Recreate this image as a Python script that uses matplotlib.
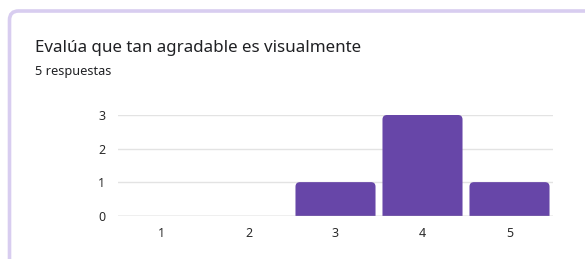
import matplotlib
matplotlib.use("Agg")
import matplotlib.pyplot as plt
from matplotlib.patches import FancyBboxPatch

categories = ["1", "2", "3", "4", "5"]
values = [0, 0, 1, 3, 1]
yticks = [0, 1, 2, 3]
title = "Evalúa que tan agradable es visualmente"
subtitle = "5 respuestas"

BAR = "#6746a8"
plt.rcParams['font.family'] = ['Noto Sans', 'DejaVu Sans']

W, H = 585, 259
fig = plt.figure(figsize=(W / 100, H / 100), dpi=100)
fig.patch.set_facecolor("white")

# card border
card = FancyBboxPatch((9.5 / W, -0.2), 1.2, 1 - 11 / H + 0.2,
                      boxstyle="round,pad=0,rounding_size=%f" % (9 / W),
                      mutation_aspect=W / H, transform=fig.transFigure,
                      facecolor="white", edgecolor="#d8cdf0", linewidth=2.6,
                      zorder=-10)
fig.patches.append(card)

fig.text(35 / W, 1 - 48 / H, title, fontsize=12.2, color="#202124",
         va="center", ha="left")
fig.text(35 / W, 1 - 71 / H, subtitle, fontsize=9.2, color="#202124",
         va="center", ha="left")

ax = fig.add_axes([118 / W, 43.3 / H, (553 - 118) / W, (144 - 43.3) / H])
ax.set_facecolor("none")
ax.set_zorder(2)
x = list(range(len(categories)))
bars = ax.bar(x, values, width=0.92, color=BAR)
ax.set_xlim(-0.5, len(categories) - 0.5)
ax.set_ylim(0, 3)

px_x = (553 - 118) / 5.0
px_y = (144 - 43.3) / 3.0
r_px = 4.5
rs = r_px / px_x
aspect = px_x / px_y
ext = 0.3  # extend below baseline; clipped by axes so only top corners are rounded
for b in bars:
    bx, by = b.get_x(), b.get_y()
    bw, bh = b.get_width(), b.get_height()
    b.remove()
    if bh <= 0:
        continue
    p = FancyBboxPatch((bx, by - ext), bw, bh + ext,
                       boxstyle="round,pad=0,rounding_size=%f" % rs,
                       mutation_aspect=aspect, facecolor=BAR,
                       edgecolor="none", zorder=3)
    ax.add_patch(p)
    p.set_clip_on(True)

ax.set_yticks(yticks)
ax.set_xticks(x)
ax.set_xticklabels(categories)
for yv in yticks[1:]:
    ax.axhline(yv, color="#e3e3e3", linewidth=1.0, zorder=1)
ax.axhline(0, color="#b0b0b0", linewidth=1.0, zorder=4)
for s in ax.spines.values():
    s.set_visible(False)
ax.tick_params(axis="both", length=0, labelsize=9, colors="#2b2b2b")
ax.tick_params(axis="y", pad=9)
ax.tick_params(axis="x", pad=8)

fig.savefig("out.png", dpi=100, facecolor="white")
